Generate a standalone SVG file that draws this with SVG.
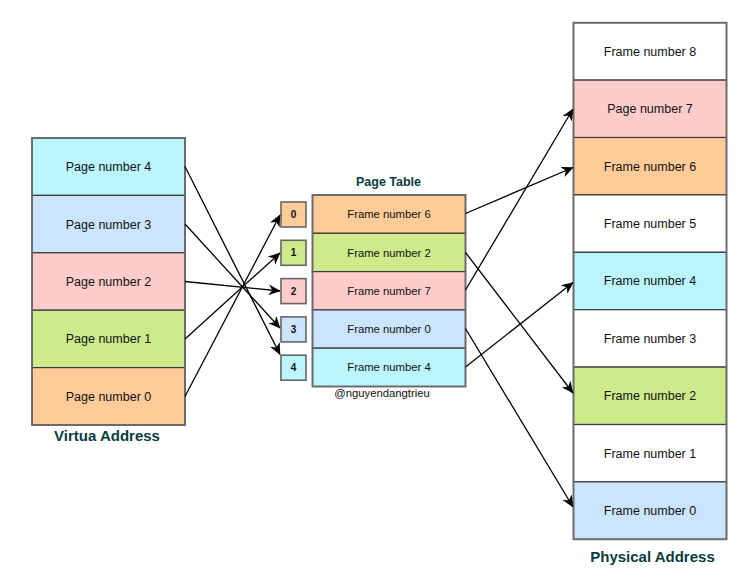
<svg xmlns="http://www.w3.org/2000/svg" width="754" height="587" viewBox="0 0 754 587">
<style>
  .cell{stroke:#3a3a3a;stroke-width:1.2}
  .outer{fill:none;stroke:#6a6a6a;stroke-width:1.8}
  .idx{stroke:#666;stroke-width:1.6}
  .t{font-family:"Liberation Sans",Arial,sans-serif;font-size:12.5px;fill:#111;text-anchor:middle}
  .ts{font-family:"Liberation Sans",Arial,sans-serif;font-size:11.3px;fill:#111;text-anchor:middle}
  .tn{font-family:"Liberation Sans",Arial,sans-serif;font-size:10px;font-weight:bold;fill:#111;text-anchor:middle}
  .h{font-family:"Liberation Sans",Arial,sans-serif;font-weight:bold;fill:#083c42;text-anchor:middle}
  .c{fill:#cce5ff}.g{fill:#cdeb8b}.p{fill:#ffcccc}.o{fill:#ffcc99}.cy{fill:#bbf6ff}.w{fill:#ffffff}
  .e{stroke:#000;stroke-width:1.3;fill:none;marker-end:url(#arr)}
</style>
<defs>
  <marker id="arr" markerUnits="userSpaceOnUse" markerWidth="12" markerHeight="12" viewBox="0 0 10 10" refX="9.5" refY="5" orient="auto">
    <path d="M0,0.5 L10,5 L0,9.5 L3,5 z" fill="#000"/>
  </marker>
</defs>
<rect width="754" height="587" fill="#fff"/>

<g id="virtual-address">
  <rect class="cell cy" x="32" y="138" width="153" height="57.4"/>
  <rect class="cell c" x="32" y="195.4" width="153" height="57.4"/>
  <rect class="cell p" x="32" y="252.8" width="153" height="57.4"/>
  <rect class="cell g" x="32" y="310.2" width="153" height="57.4"/>
  <rect class="cell o" x="32" y="367.6" width="153" height="57.4"/>
  <rect class="outer" x="32" y="138" width="153" height="287"/>
  <text class="t" x="108.5" y="171">Page number 4</text>
  <text class="t" x="108.5" y="228.5">Page number 3</text>
  <text class="t" x="108.5" y="286">Page number 2</text>
  <text class="t" x="108.5" y="343.4">Page number 1</text>
  <text class="t" x="108.5" y="400.8">Page number 0</text>
  <text class="h" x="107" y="441" font-size="15">Virtua Address</text>
</g>

<g id="index-boxes">
  <rect class="idx o" x="281" y="202" width="25" height="25"/>
  <rect class="idx g" x="281" y="240.3" width="25" height="25"/>
  <rect class="idx p" x="281" y="278.6" width="25" height="25"/>
  <rect class="idx c" x="281" y="316.9" width="25" height="25"/>
  <rect class="idx cy" x="281" y="355.2" width="25" height="25"/>
  <text class="tn" x="293.5" y="218">0</text>
  <text class="tn" x="293.5" y="256.3">1</text>
  <text class="tn" x="293.5" y="294.6">2</text>
  <text class="tn" x="293.5" y="332.9">3</text>
  <text class="tn" x="293.5" y="371.2">4</text>
</g>

<g id="page-table">
  <text class="h" x="388.5" y="186" font-size="12.5">Page Table</text>
  <rect class="cell o" x="312.5" y="195" width="153" height="38.3"/>
  <rect class="cell g" x="312.5" y="233.3" width="153" height="38.3"/>
  <rect class="cell p" x="312.5" y="271.6" width="153" height="38.3"/>
  <rect class="cell c" x="312.5" y="309.9" width="153" height="38.3"/>
  <rect class="cell cy" x="312.5" y="348.2" width="153" height="38.3"/>
  <rect class="outer" x="312.5" y="195" width="153" height="191.5"/>
  <text class="ts" x="389" y="218.2">Frame number 6</text>
  <text class="ts" x="389" y="256.5">Frame number 2</text>
  <text class="ts" x="389" y="294.8">Frame number 7</text>
  <text class="ts" x="389" y="333.1">Frame number 0</text>
  <text class="ts" x="389" y="371.4">Frame number 4</text>
  <text class="ts" x="382" y="397">@nguyendangtrieu</text>
</g>

<g id="physical-address">
  <rect class="cell w" x="573.5" y="22.7" width="153" height="57.4"/>
  <rect class="cell p" x="573.5" y="80.1" width="153" height="57.4"/>
  <rect class="cell o" x="573.5" y="137.5" width="153" height="57.4"/>
  <rect class="cell w" x="573.5" y="194.9" width="153" height="57.4"/>
  <rect class="cell cy" x="573.5" y="252.3" width="153" height="57.4"/>
  <rect class="cell w" x="573.5" y="309.7" width="153" height="57.4"/>
  <rect class="cell g" x="573.5" y="367.1" width="153" height="57.4"/>
  <rect class="cell w" x="573.5" y="424.5" width="153" height="57.4"/>
  <rect class="cell c" x="573.5" y="481.9" width="153" height="57.4"/>
  <rect class="outer" x="573.5" y="22.7" width="153" height="516.6"/>
  <text class="t" x="650" y="55.7">Frame number 8</text>
  <text class="t" x="650" y="113.1">Page number 7</text>
  <text class="t" x="650" y="170.5">Frame number 6</text>
  <text class="t" x="650" y="227.9">Frame number 5</text>
  <text class="t" x="650" y="285.3">Frame number 4</text>
  <text class="t" x="650" y="342.7">Frame number 3</text>
  <text class="t" x="650" y="400.1">Frame number 2</text>
  <text class="t" x="650" y="457.5">Frame number 1</text>
  <text class="t" x="650" y="514.9">Frame number 0</text>
  <text class="h" x="652.5" y="562" font-size="15">Physical Address</text>
</g>

<g id="connectors">
  <line class="e" x1="185" y1="166.5" x2="280" y2="354.5"/>
  <line class="e" x1="185" y1="224" x2="280" y2="328"/>
  <line class="e" x1="185" y1="281.5" x2="280" y2="291"/>
  <line class="e" x1="185" y1="339" x2="280" y2="253"/>
  <line class="e" x1="185" y1="396.5" x2="280" y2="215"/>
  <line class="e" x1="465.5" y1="213.5" x2="573" y2="167.5"/>
  <line class="e" x1="465.5" y1="252.5" x2="573" y2="393"/>
  <line class="e" x1="465.5" y1="290" x2="573" y2="109"/>
  <line class="e" x1="465.5" y1="328.5" x2="573" y2="507"/>
  <line class="e" x1="465.5" y1="367" x2="573" y2="282.5"/>
</g>
</svg>
